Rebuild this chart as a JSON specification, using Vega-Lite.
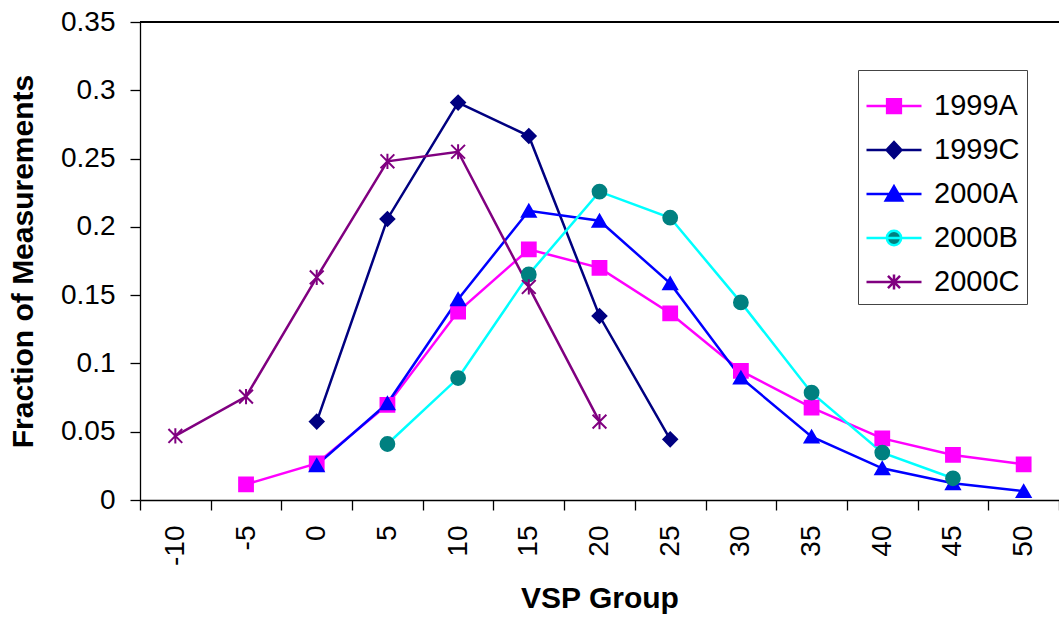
{
  "$schema": "https://vega.github.io/schema/vega-lite/v6.json",
  "autosize": {"type": "none"},
  "padding": {"left": 140, "top": 22, "right": 0, "bottom": 122},
  "width": 919,
  "height": 478,
  "background": "white",
  "config": {
    "font": "Liberation Sans",
    "view": {"stroke": null},
    "axis": {"grid": false, "domainColor": "black", "tickColor": "black", "labelColor": "black", "titleColor": "black", "domainWidth": 1.3, "tickWidth": 1.3}
  },
  "data": {"values": [
    {"series": "1999A", "vsp": -5, "value": 0.0115},
    {"series": "1999A", "vsp": 0, "value": 0.0268},
    {"series": "1999A", "vsp": 5, "value": 0.0696},
    {"series": "1999A", "vsp": 10, "value": 0.138},
    {"series": "1999A", "vsp": 15, "value": 0.1835},
    {"series": "1999A", "vsp": 20, "value": 0.170},
    {"series": "1999A", "vsp": 25, "value": 0.1367},
    {"series": "1999A", "vsp": 30, "value": 0.0945},
    {"series": "1999A", "vsp": 35, "value": 0.0676},
    {"series": "1999A", "vsp": 40, "value": 0.0451},
    {"series": "1999A", "vsp": 45, "value": 0.033},
    {"series": "1999A", "vsp": 50, "value": 0.0261},
    {"series": "1999C", "vsp": 0, "value": 0.0574},
    {"series": "1999C", "vsp": 5, "value": 0.2058},
    {"series": "1999C", "vsp": 10, "value": 0.291},
    {"series": "1999C", "vsp": 15, "value": 0.2665},
    {"series": "1999C", "vsp": 20, "value": 0.1347},
    {"series": "1999C", "vsp": 25, "value": 0.0444},
    {"series": "2000A", "vsp": 0, "value": 0.0255},
    {"series": "2000A", "vsp": 5, "value": 0.0708},
    {"series": "2000A", "vsp": 10, "value": 0.147},
    {"series": "2000A", "vsp": 15, "value": 0.2118},
    {"series": "2000A", "vsp": 20, "value": 0.2045},
    {"series": "2000A", "vsp": 25, "value": 0.1586},
    {"series": "2000A", "vsp": 30, "value": 0.0896},
    {"series": "2000A", "vsp": 35, "value": 0.0464},
    {"series": "2000A", "vsp": 40, "value": 0.0232},
    {"series": "2000A", "vsp": 45, "value": 0.0122},
    {"series": "2000A", "vsp": 50, "value": 0.0065},
    {"series": "2000B", "vsp": 5, "value": 0.041},
    {"series": "2000B", "vsp": 10, "value": 0.0893},
    {"series": "2000B", "vsp": 15, "value": 0.1652},
    {"series": "2000B", "vsp": 20, "value": 0.2258},
    {"series": "2000B", "vsp": 25, "value": 0.2067},
    {"series": "2000B", "vsp": 30, "value": 0.1447},
    {"series": "2000B", "vsp": 35, "value": 0.0786},
    {"series": "2000B", "vsp": 40, "value": 0.0347},
    {"series": "2000B", "vsp": 45, "value": 0.0159},
    {"series": "2000C", "vsp": -10, "value": 0.0469},
    {"series": "2000C", "vsp": -5, "value": 0.0757},
    {"series": "2000C", "vsp": 0, "value": 0.163},
    {"series": "2000C", "vsp": 5, "value": 0.248},
    {"series": "2000C", "vsp": 10, "value": 0.255},
    {"series": "2000C", "vsp": 15, "value": 0.156},
    {"series": "2000C", "vsp": 20, "value": 0.0574}
  ]},
  "encoding": {
    "x": {
      "field": "vsp", "type": "ordinal",
      "scale": {"type": "band", "domain": [-10, -5, 0, 5, 10, 15, 20, 25, 30, 35, 40, 45, 50], "paddingInner": 0, "paddingOuter": 0},
      "axis": {"title": "VSP Group", "labelAngle": 270, "tickBand": "extent", "tickSize": 10, "labelPadding": 15, "labelFontSize": 28, "titleFontSize": 30, "titleFontWeight": "bold", "titlePadding": 18}
    },
    "y": {
      "field": "value", "type": "quantitative",
      "scale": {"domain": [0, 0.35], "nice": false, "zero": true},
      "axis": {"title": "Fraction of Measurements", "values": [0, 0.05, 0.1, 0.15, 0.2, 0.25, 0.3, 0.35], "format": "~g", "tickSize": 10, "labelPadding": 15, "labelFontSize": 28, "titleFontSize": 30, "titleFontWeight": "bold", "titlePadding": 22}
    }
  },
  "layer": [
    {
      "mark": {"type": "rule", "color": "black", "strokeWidth": 1.3},
      "encoding": {"y": {"datum": 0.35}, "x": null}
    },
    {
      "mark": {"type": "line", "strokeWidth": 2.5},
      "encoding": {
        "color": {"field": "series", "type": "nominal", "legend": null,
          "scale": {"domain": ["1999A", "1999C", "2000A", "2000B", "2000C"], "range": ["#FF00FF", "#000080", "#0000FF", "#00FFFF", "#800080"]}}
      }
    },
    {
      "mark": {"type": "point", "filled": true, "opacity": 1, "size": 190, "strokeWidth": 2},
      "encoding": {
        "shape": {"field": "series", "type": "nominal", "legend": null,
          "scale": {"domain": ["1999A", "1999C", "2000A", "2000B", "2000C"], "range": ["square", "diamond", "triangle-up", "circle", "M-1,-1L1,1M-1,1L1,-1M0,-1.1L0,1.1"]}},
        "fill": {"field": "series", "type": "nominal", "legend": null,
          "scale": {"domain": ["1999A", "1999C", "2000A", "2000B", "2000C"], "range": ["#FF00FF", "#000080", "#0000FF", "#008080", "transparent"]}},
        "stroke": {"field": "series", "type": "nominal", "legend": null,
          "scale": {"domain": ["1999A", "1999C", "2000A", "2000B", "2000C"], "range": ["#FF00FF", "#000080", "#0000FF", "#008080", "#800080"]}}
      }
    },
    {
      "transform": [{"filter": "datum.value < 0"}],
      "mark": {"type": "point", "filled": true, "opacity": 1, "strokeWidth": 2.5},
      "encoding": {
        "shape": {"field": "series", "type": "nominal",
          "scale": {"domain": ["1999A", "1999C", "2000A", "2000B", "2000C"], "range": [
            "M-1,0H1M-0.25,-0.25H0.25V0.25H-0.25Z",
            "M-1,0H1M0,-0.29L0.27,0L0,0.29L-0.27,0Z",
            "M-1,0H1M0,-0.28L0.3,0.24L-0.3,0.24Z",
            "M-1,0H1M-0.26,0A0.26,0.26,0,1,1,0.26,0A0.26,0.26,0,1,1,-0.26,0Z",
            "M-1,0H1M-0.22,-0.22L0.22,0.22M-0.22,0.22L0.22,-0.22M0,-0.27V0.27"]},
          "legend": {"title": null, "orient": "none", "legendX": 718, "legendY": 48, "padding": 7, "rowPadding": -1, "symbolSize": 3025, "symbolStrokeWidth": 2.5, "symbolOpacity": 1, "labelOffset": 11, "labelFontSize": 29, "labelColor": "black", "labelLimit": 300, "strokeColor": "#444444", "fillColor": "white"}},
        "fill": {"field": "series", "type": "nominal",
          "scale": {"domain": ["1999A", "1999C", "2000A", "2000B", "2000C"], "range": ["#FF00FF", "#000080", "#0000FF", "#008080", "transparent"]},
          "legend": {"title": null, "orient": "none", "legendX": 718, "legendY": 48, "padding": 7, "rowPadding": -1, "symbolSize": 3025, "symbolStrokeWidth": 2.5, "symbolOpacity": 1, "labelOffset": 11, "labelFontSize": 29, "labelColor": "black", "labelLimit": 300, "strokeColor": "#444444", "fillColor": "white"}},
        "stroke": {"field": "series", "type": "nominal",
          "scale": {"domain": ["1999A", "1999C", "2000A", "2000B", "2000C"], "range": ["#FF00FF", "#000080", "#0000FF", "#00FFFF", "#800080"]},
          "legend": {"title": null, "orient": "none", "legendX": 718, "legendY": 48, "padding": 7, "rowPadding": -1, "symbolSize": 3025, "symbolStrokeWidth": 2.5, "symbolOpacity": 1, "labelOffset": 11, "labelFontSize": 29, "labelColor": "black", "labelLimit": 300, "strokeColor": "#444444", "fillColor": "white"}}
      }
    }
  ],
  "resolve": {"scale": {"shape": "independent", "fill": "independent", "stroke": "independent"}}
}
